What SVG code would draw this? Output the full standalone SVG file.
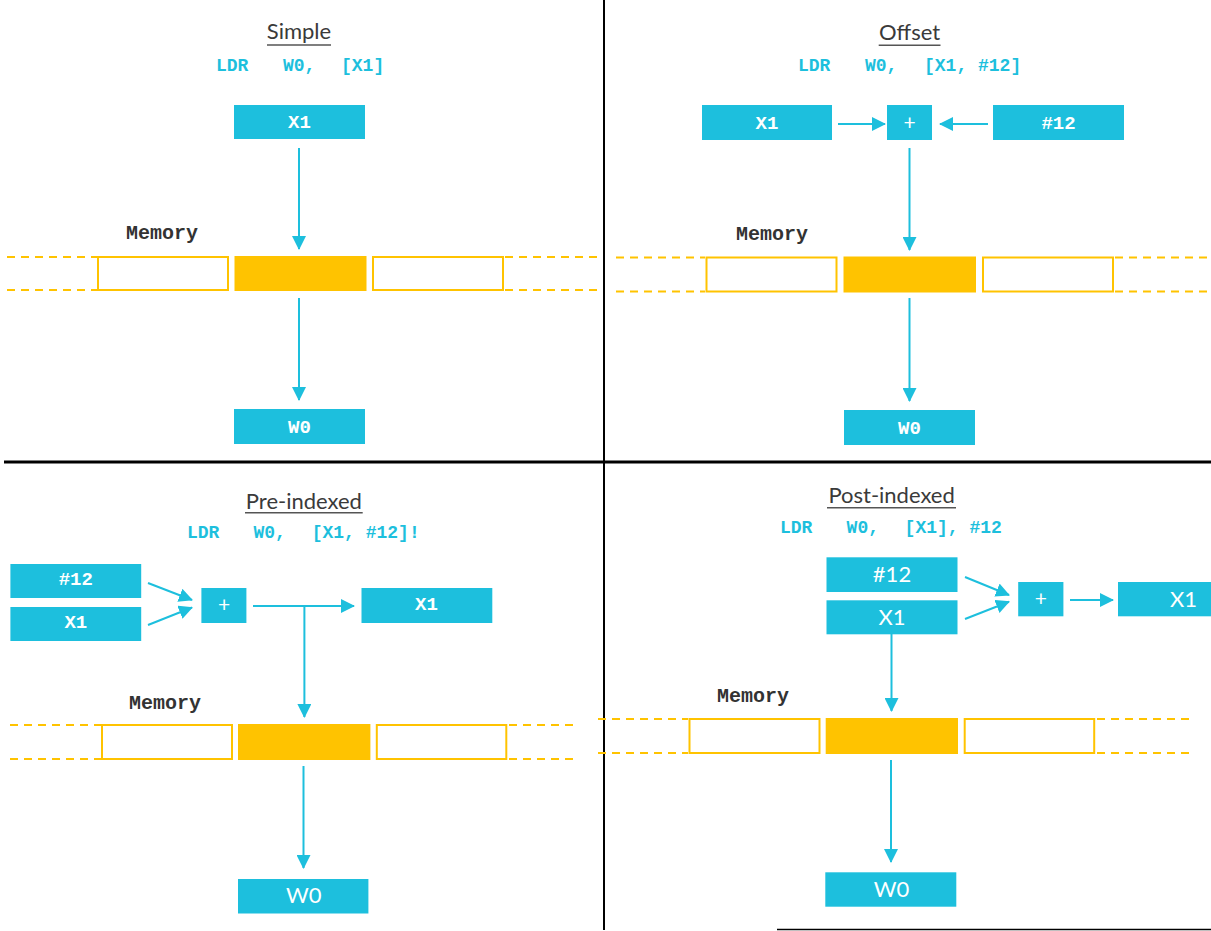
<svg xmlns="http://www.w3.org/2000/svg" width="1211" height="931" viewBox="0 0 1211 931">
<style>
.bg{fill:#ffffff}
.box{fill:#1DBFDD}
.mem{fill:#ffffff;stroke:#FFC300;stroke-width:2}
.memf{fill:#FFC300}
.dash{stroke:#FFC300;stroke-width:2;stroke-dasharray:8 6;fill:none}
.conn{stroke:#1DBFDD;stroke-width:2;fill:none}
.div{stroke:#000000;fill:none}
.title{font-family:Lato,"Noto Sans",sans-serif;font-size:22px;fill:#3a3a3a;text-anchor:middle}
.uline{stroke:#555555;stroke-width:1.5}
.code{font-family:"Courier New","Liberation Mono",monospace;font-weight:bold;font-size:18px;fill:#1DBFDD}
.memlbl{font-family:"Courier New","Liberation Mono",monospace;font-weight:bold;font-size:20px;fill:#333333}
.mlbl{font-family:"Courier New","Liberation Mono",monospace;font-weight:bold;font-size:19px;fill:#ffffff;text-anchor:middle}
.slbl{font-family:Lato,"Noto Sans",sans-serif;font-size:22px;fill:#ffffff;text-anchor:middle}
.plus{font-family:Lato,"Noto Sans",sans-serif;font-size:21px;fill:#ffffff;text-anchor:middle}
</style>
<defs>
<marker id="ah" markerUnits="userSpaceOnUse" markerWidth="14" markerHeight="14" refX="13" refY="7" orient="auto">
<path d="M0,0 L14,7 L0,14 z" fill="#1DBFDD"/>
</marker>
</defs>
<rect class="bg" x="0" y="0" width="1211" height="931"/>

<g id="dividers">
<line class="div" x1="604" y1="0" x2="604" y2="930" stroke-width="2"/>
<line class="div" x1="4" y1="462" x2="1211" y2="462" stroke-width="3"/>
<line class="div" x1="777" y1="929.5" x2="1211" y2="929.5" stroke-width="1.5"/>
</g>

<!-- Simple -->
<g id="title-simple">
<text class="title" x="299" y="39">Simple</text>
<line class="uline" x1="267" y1="45" x2="331" y2="45"/>
<text class="code" x="216" y="71">LDR</text>
<text class="code" x="283" y="71">W0,</text>
<text class="code" x="341" y="71">[X1]</text>
</g>
<g id="mem-simple">
<line class="dash" x1="7" y1="257" x2="97" y2="257"/>
<line class="dash" x1="7" y1="290" x2="97" y2="290"/>
<line class="dash" x1="505" y1="257" x2="599" y2="257"/>
<line class="dash" x1="505" y1="290" x2="599" y2="290"/>
<rect class="mem" x="98" y="257" width="130" height="33"/>
<rect class="memf" x="234.5" y="256" width="132" height="35"/>
<rect class="mem" x="373" y="257" width="130" height="33"/>
<text class="memlbl" x="126" y="239">Memory</text>
</g>
<g id="s-x1"><rect class="box" x="234" y="105" width="131" height="34"/><text class="mlbl" x="299.5" y="128">X1</text></g>
<g id="s-w0"><rect class="box" x="234" y="409" width="131" height="35"/><text class="mlbl" x="299.5" y="432.5">W0</text></g>

<!-- Offset -->
<g id="title-offset">
<text class="title" x="909.6" y="39.5">Offset</text>
<line class="uline" x1="878.7" y1="45.3" x2="940.5" y2="45.3"/>
<text class="code" x="798" y="71">LDR</text>
<text class="code" x="865" y="71">W0,</text>
<text class="code" x="924" y="71">[X1, #12]</text>
</g>
<g id="mem-offset">
<line class="dash" x1="616" y1="257.5" x2="705" y2="257.5"/>
<line class="dash" x1="616" y1="291.5" x2="705" y2="291.5"/>
<line class="dash" x1="1115" y1="257.5" x2="1209" y2="257.5"/>
<line class="dash" x1="1115" y1="291.5" x2="1209" y2="291.5"/>
<rect class="mem" x="706.5" y="257.5" width="130" height="34"/>
<rect class="memf" x="843.5" y="256.5" width="132.5" height="36"/>
<rect class="mem" x="983" y="257.5" width="130" height="34"/>
<text class="memlbl" x="736" y="239.5">Memory</text>
</g>
<g id="o-x1"><rect class="box" x="702" y="105" width="130" height="35"/><text class="mlbl" x="767" y="128.5">X1</text></g>
<g id="o-plus"><rect class="box" x="887" y="105" width="45" height="35"/><text class="plus" x="909.5" y="130">+</text></g>
<g id="o-12"><rect class="box" x="993" y="105" width="131" height="35"/><text class="mlbl" x="1058.5" y="129">#12</text></g>
<g id="o-w0"><rect class="box" x="844" y="410" width="131" height="35"/><text class="mlbl" x="909.5" y="433.5">W0</text></g>

<!-- Pre-indexed -->
<g id="title-pre">
<text class="title" x="303.9" y="509">Pre-indexed</text>
<line class="uline" x1="245" y1="512.7" x2="362.7" y2="512.7"/>
<text class="code" x="187" y="538">LDR</text>
<text class="code" x="253.5" y="538">W0,</text>
<text class="code" x="311.7" y="538">[X1, #12]!</text>
</g>
<g id="mem-pre">
<line class="dash" x1="10" y1="725" x2="101" y2="725"/>
<line class="dash" x1="10" y1="759" x2="101" y2="759"/>
<line class="dash" x1="509" y1="725" x2="577" y2="725"/>
<line class="dash" x1="509" y1="759" x2="577" y2="759"/>
<rect class="mem" x="102" y="725" width="130" height="34"/>
<rect class="memf" x="238" y="724" width="132.4" height="36"/>
<rect class="mem" x="376.8" y="725" width="129.5" height="34"/>
<text class="memlbl" x="129" y="708.5">Memory</text>
</g>
<g id="p-12"><rect class="box" x="10.4" y="564" width="130.8" height="34"/><text class="mlbl" x="75.8" y="585">#12</text></g>
<g id="p-x1"><rect class="box" x="10.4" y="607" width="130.8" height="34"/><text class="mlbl" x="75.8" y="628">X1</text></g>
<g id="p-plus"><rect class="box" x="201.4" y="588" width="45" height="35"/><text class="plus" x="224" y="612">+</text></g>
<g id="p-x1out"><rect class="box" x="361.5" y="588" width="130.8" height="35"/><text class="mlbl" x="426.5" y="609.5">X1</text></g>
<g id="p-w0"><rect class="box" x="238" y="879" width="130.4" height="34.5"/><text class="slbl" x="303.8" y="903">W0</text></g>

<!-- Post-indexed -->
<g id="title-post">
<text class="title" x="891.6" y="503">Post-indexed</text>
<line class="uline" x1="827" y1="507.7" x2="956" y2="507.7"/>
<text class="code" x="780" y="532.5">LDR</text>
<text class="code" x="846.6" y="532.5">W0,</text>
<text class="code" x="904.6" y="532.5">[X1], #12</text>
</g>
<g id="mem-post">
<line class="dash" x1="598" y1="719" x2="688" y2="719"/>
<line class="dash" x1="598" y1="753" x2="688" y2="753"/>
<line class="dash" x1="1097" y1="719" x2="1190" y2="719"/>
<line class="dash" x1="1097" y1="753" x2="1190" y2="753"/>
<rect class="mem" x="689.5" y="719" width="130" height="34"/>
<rect class="memf" x="825.7" y="718" width="132.3" height="36"/>
<rect class="mem" x="964.7" y="719" width="129.5" height="34"/>
<text class="memlbl" x="717" y="702">Memory</text>
</g>
<g id="q-12"><rect class="box" x="826.5" y="557.3" width="131" height="34.7"/><text class="slbl" x="892" y="582">#12</text></g>
<g id="q-x1"><rect class="box" x="826.5" y="600.3" width="131" height="34"/><text class="slbl" x="892" y="625">X1</text></g>
<g id="q-plus"><rect class="box" x="1018.2" y="582" width="45.2" height="34.3"/><text class="plus" x="1040.8" y="606">+</text></g>
<g id="q-x1out"><rect class="box" x="1118" y="582" width="131" height="34.3"/><text class="slbl" x="1183.5" y="607">X1</text></g>
<g id="q-w0"><rect class="box" x="825.3" y="872.3" width="131" height="34.4"/><text class="slbl" x="891.6" y="897">W0</text></g>

<g id="connectors">
<line class="conn" x1="299" y1="148" x2="299" y2="249" marker-end="url(#ah)"/>
<line class="conn" x1="299" y1="298" x2="299" y2="400" marker-end="url(#ah)"/>

<line class="conn" x1="838" y1="124" x2="885" y2="124" marker-end="url(#ah)"/>
<line class="conn" x1="988" y1="124" x2="940" y2="124" marker-end="url(#ah)"/>
<line class="conn" x1="909.5" y1="148" x2="909.5" y2="250" marker-end="url(#ah)"/>
<line class="conn" x1="909.5" y1="298" x2="909.5" y2="401" marker-end="url(#ah)"/>

<line class="conn" x1="148" y1="583" x2="192" y2="600" marker-end="url(#ah)"/>
<line class="conn" x1="148" y1="625" x2="192" y2="607.5" marker-end="url(#ah)"/>
<line class="conn" x1="253" y1="606" x2="354" y2="606" marker-end="url(#ah)"/>
<line class="conn" x1="304.4" y1="606" x2="304.4" y2="717" marker-end="url(#ah)"/>
<line class="conn" x1="303.5" y1="766" x2="303.5" y2="868" marker-end="url(#ah)"/>

<line class="conn" x1="965" y1="577" x2="1009" y2="595" marker-end="url(#ah)"/>
<line class="conn" x1="965" y1="619" x2="1009" y2="601.7" marker-end="url(#ah)"/>
<line class="conn" x1="1070" y1="600" x2="1113" y2="600" marker-end="url(#ah)"/>
<line class="conn" x1="891.5" y1="634" x2="891.5" y2="711" marker-end="url(#ah)"/>
<line class="conn" x1="891" y1="760" x2="891" y2="862" marker-end="url(#ah)"/>
</g>
</svg>
